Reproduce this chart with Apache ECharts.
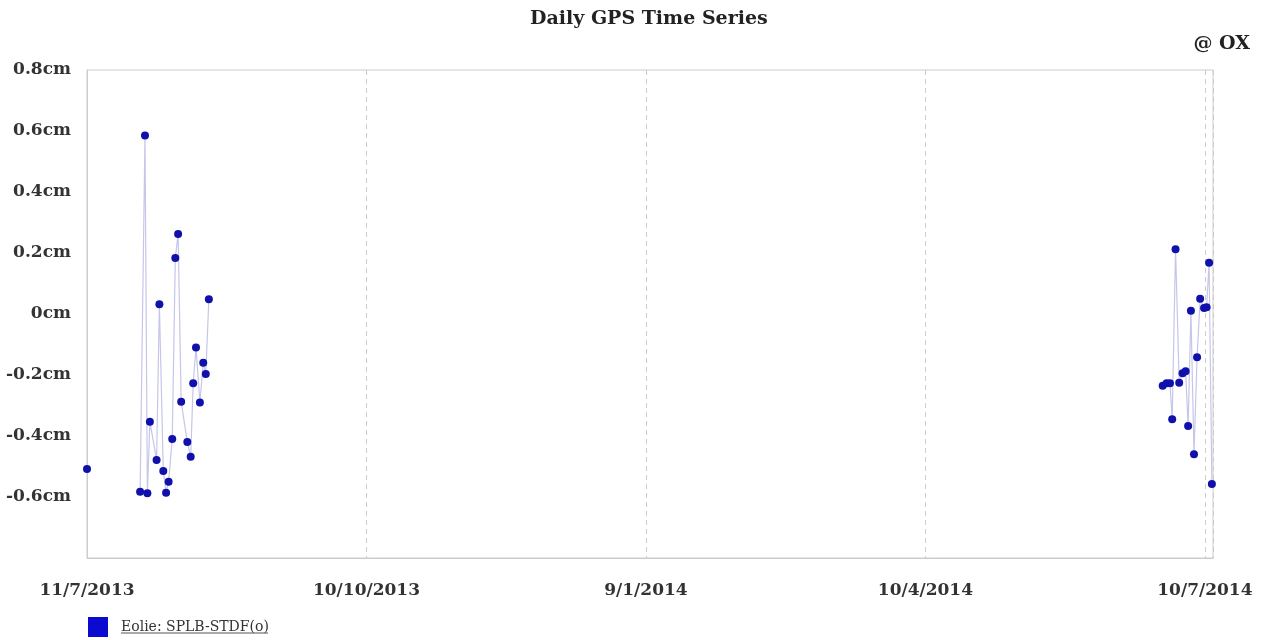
<!DOCTYPE html>
<html>
<head>
<meta charset="utf-8">
<script src="https://cdn.jsdelivr.net/npm/echarts@6/dist/echarts.min.js"></script>
<style>
  html, body { margin: 0; padding: 0; background: #ffffff; }
  #chart { width: 1262px; height: 640px; }
</style>
</head>
<body>
<div id="chart"></div>
<script>
// Tick labels for the x axis (one per unit step)
const xTickLabels = ['11/7/2013', '10/10/2013', '9/1/2014', '10/4/2014', '10/7/2014'];
const seriesName = 'Eolie: SPLB-STDF(o)';

// Isolated first observation
const isolatedX = [0.0];
const isolatedY = [-0.508];

// First cluster
const clusterAX = [0.190, 0.2075, 0.216, 0.225, 0.249, 0.259, 0.273, 0.283, 0.292, 0.305, 0.316,
                   0.326, 0.337, 0.359, 0.371, 0.380, 0.390, 0.404, 0.416, 0.425, 0.436];
const clusterAY = [-0.583, 0.585, -0.588, -0.353, -0.479, 0.032, -0.515, -0.586, -0.550, -0.410, 0.184,
                   0.262, -0.288, -0.420, -0.468, -0.227, -0.110, -0.290, -0.160, -0.197, 0.048];

// Second cluster
const clusterBX = [3.849, 3.863, 3.875, 3.883, 3.895, 3.908, 3.920, 3.931, 3.940, 3.950, 3.961,
                   3.972, 3.983, 3.997, 4.006, 4.015, 4.025];
const clusterBY = [-0.235, -0.227, -0.227, -0.345, 0.212, -0.225, -0.194, -0.188, -0.367, 0.011, -0.460,
                   -0.142, 0.050, 0.020, 0.022, 0.168, -0.557];

const zip = (xs, ys) => xs.map((x, i) => [x, ys[i]]);

const FONT = '"DejaVu Serif", "Liberation Serif", serif';
const POINT = '#1010aa';
const LINE = '#c6c6ea';

function makeSeries(xs, ys) {
  return {
    name: seriesName,
    type: 'line',
    data: zip(xs, ys),
    symbol: 'circle',
    symbolSize: 8,
    showSymbol: true,
    itemStyle: { color: POINT },
    lineStyle: { color: LINE, width: 1.2 },
    emphasis: { disabled: true },
    animation: false
  };
}

const chart = echarts.init(document.getElementById('chart'));
chart.setOption({
  backgroundColor: '#ffffff',
  animation: false,
  title: [
    {
      text: 'Daily GPS Time Series',
      left: 525,
      top: 5,
      textStyle: { fontFamily: FONT, fontWeight: 'bold', fontSize: 19, color: '#222' }
    },
    {
      text: '@ OX',
      right: 7,
      top: 30,
      textStyle: { fontFamily: FONT, fontWeight: 'bold', fontSize: 19, color: '#222' }
    }
  ],
  legend: {
    left: 83,
    top: 612,
    icon: 'rect',
    itemWidth: 20,
    itemHeight: 20,
    itemGap: 10,
    data: [{ name: seriesName, itemStyle: { color: '#0a0ad0' } }],
    textStyle: { fontFamily: FONT, fontSize: 14, color: '#333', padding: [0, 0, 0, 8] },
    selectedMode: false
  },
  grid: { left: 87, right: 49, top: 70, bottom: 82, show: true, borderColor: '#cccccc', borderWidth: 1 },
  xAxis: {
    type: 'value',
    min: 0,
    max: 4.029,
    interval: 1,
    axisLine: { show: true, onZero: false, lineStyle: { color: '#cccccc' } },
    axisTick: { show: false },
    splitLine: { show: true, lineStyle: { color: '#cccccc', type: [5, 4] } },
    axisLabel: {
      margin: 24,
      fontFamily: FONT,
      fontWeight: 'bold',
      fontSize: 17,
      color: '#333',
      showMaxLabel: false,
      formatter: function (v) {
        const r = Math.round(v);
        return Math.abs(v - r) < 1e-6 && xTickLabels[r] !== undefined ? xTickLabels[r] : '';
      }
    }
  },
  yAxis: {
    type: 'value',
    min: -0.8,
    max: 0.8,
    interval: 0.2,
    axisLine: { show: true, onZero: false, lineStyle: { color: '#cccccc' } },
    axisTick: { show: false },
    splitLine: { show: false },
    axisLabel: {
      margin: 16,
      fontFamily: FONT,
      fontWeight: 'bold',
      fontSize: 17,
      color: '#333',
      formatter: function (v) {
        const r = Math.round(v * 10) / 10;
        if (Math.abs(r + 0.8) < 1e-6) return '';
        return (Math.abs(r) < 1e-6 ? '0' : String(r)) + 'cm';
      }
    }
  },
  series: [
    makeSeries(isolatedX, isolatedY),
    makeSeries(clusterAX, clusterAY),
    makeSeries(clusterBX, clusterBY)
  ],
  graphic: [{
    type: 'line',
    shape: { x1: 121, y1: 633, x2: 268, y2: 633 },
    style: { stroke: '#555', lineWidth: 1 },
    silent: true
  }]
});
</script>
</body>
</html>
